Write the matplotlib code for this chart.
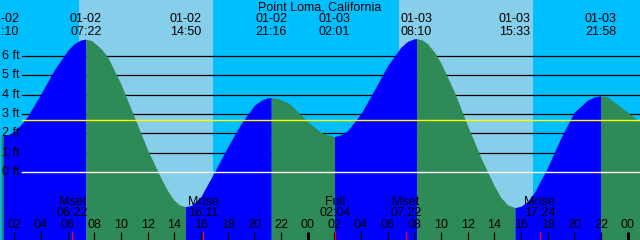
"""
Tide graph for Point Loma, California (01-02 .. 01-03), XTide style.
Saves out.png (640x240).
"""

import matplotlib
matplotlib.use("Agg")
import matplotlib.pyplot as plt

plt.rcParams["font.family"] = ["Liberation Sans", "DejaVu Sans"]

TITLE = "Point Loma, California"

# Tide height (ft), hours counted from 01-02 00:00
curve_hours = [1.0, 1.17, 1.6, 2, 2.5, 3, 4, 5, 6, 6.5, 7, 7.37, 7.8, 8.5, 9, 10,
               11, 12, 13, 13.5, 14, 14.4, 14.83,
               15.3, 16, 17, 18, 19, 20, 20.5, 21, 21.27, 21.7, 22.5, 23, 24, 25,
               25.5, 26.02, 26.5,
               27, 28, 29, 30, 31, 31.5, 32, 32.17, 32.6, 33, 33.5, 34, 35, 36, 37,
               38, 38.5, 39, 39.55,
               40, 40.5, 41, 42, 43, 44, 45, 45.5, 45.97, 46.5, 47, 48, 49]
curve_feet = [1.91, 1.90, 1.96, 2.12, 2.45, 2.89, 4.04, 5.28, 6.28, 6.63, 6.82, 6.86,
              6.79, 6.38, 5.95, 4.55,
              2.85, 1.15, -0.30, -0.95, -1.45, -1.68, -1.77,
              -1.70, -1.25, 0.0, 1.30, 2.50, 3.45, 3.70, 3.84, 3.85, 3.81, 3.60, 3.30,
              2.61, 2.06, 1.93, 1.84, 1.93,
              2.15, 3.02, 4.24, 5.49, 6.45, 6.75, 6.88, 6.89, 6.82, 6.62, 6.21, 5.63,
              4.15, 2.40, 0.75,
              -0.70, -1.30, -1.68, -1.82,
              -1.75, -1.50, -1.05, 0.25, 1.78, 3.10, 3.72, 3.88, 3.95, 3.88, 3.62,
              3.10, 2.55]

# high / low tide events (labels along the top)
tide_days  = [0, 0, 0, 0, 1, 1, 1, 1]
tide_times = ["01:10", "07:22", "14:50", "21:16", "02:01", "08:10", "15:33", "21:58"]
day_names  = ["01-02", "01-03"]

# moon events (labels along the bottom)
moon_labels = ["Mset", "Mrise", "Full", "Mset", "Mrise"]
moon_days   = [0, 0, 1, 1, 1]
moon_times  = ["06:22", "16:11", "02:04", "07:22", "17:24"]

# daylight
sunrise_times = ["06:51", "06:52"]
sunset_times  = ["16:53", "16:54"]

depth_levels = [1, 2, 3, 4, 5, 6]
datum_level  = 0
mean_level   = 2.68

hour_ticks    = list(range(2, 49, 2))
midnight_tick = [24, 48]

NIGHT  = "#00bfff"
DAY    = "#87ceeb"
RISING = "#0000ff"
FALL   = "#2e8b57"

X0, X1 = 0.93, 48.93      # visible hours
Y0, Y1 = -3.49, 8.88      # visible feet
W, H = 640, 240


def to_hours(day, hhmm):
    hh, mm = hhmm.split(":")
    return day * 24 + int(hh) + int(mm) / 60


def yfrac(px):
    return 1 - px / H


fig = plt.figure(figsize=(W / 100, H / 100), dpi=100)
ax = fig.add_axes([0, 0, 1, 1])
ax.set_xlim(X0, X1)
ax.set_ylim(Y0, Y1)
ax.axis("off")
ax.add_patch(plt.Rectangle((0, 0), 1, 1, transform=ax.transAxes,
                           color=NIGHT, zorder=0))

# ── day / night background ────────────────────────────────────────────────────
for d, (rise, sset) in enumerate(zip(sunrise_times, sunset_times)):
    ax.axvspan(to_hours(d, rise), to_hours(d, sset), color=DAY, lw=0, zorder=0.5)

# ── depth lines behind the water ─────────────────────────────────────────────
for lvl in depth_levels:
    ax.axhline(lvl, xmin=22 / W, color="black", lw=0.9, zorder=1)
    ax.text(2.5 / W, lvl, f"{lvl} ft", transform=ax.get_yaxis_transform(),
            ha="left", va="center", fontsize=9, zorder=6)
ax.text(2.5 / W, datum_level, f"{datum_level} ft", transform=ax.get_yaxis_transform(),
        ha="left", va="center", fontsize=9, zorder=6)

# ── tide fill: blue while rising, green while falling ────────────────────────
start = 0
for i in range(1, len(curve_hours)):
    rising = curve_feet[i] > curve_feet[i - 1]
    last = i == len(curve_hours) - 1
    if not last:
        next_rising = curve_feet[i + 1] > curve_feet[i]
    if last or next_rising != rising:
        ax.fill_between(curve_hours[start:i + 1], curve_feet[start:i + 1], Y0 - 1,
                        color=RISING if rising else FALL, lw=0, zorder=2)
        start = i

ax.axhline(datum_level, xmin=22 / W, color="white", lw=1.0, zorder=3)
ax.axhline(mean_level, xmin=22 / W, color="yellow", lw=1.0, zorder=3)

# ── top labels: title and tide times ─────────────────────────────────────────
ax.text(0.5, yfrac(8), TITLE, transform=ax.transAxes, ha="center", va="center",
        fontsize=9, zorder=6)
for d, t in zip(tide_days, tide_times):
    x = to_hours(d, t)
    ax.text(x, yfrac(19.5), day_names[d], transform=ax.get_xaxis_transform(),
            ha="center", va="center", fontsize=9, zorder=6)
    ax.text(x, yfrac(31.8), t, transform=ax.get_xaxis_transform(),
            ha="center", va="center", fontsize=9, zorder=6)

# ── bottom: hour ticks, moon events ──────────────────────────────────────────
tr = ax.get_xaxis_transform()
for h in hour_ticks:
    ax.plot([h, h], [0, 8 / H], transform=tr, color="black",
            lw=2.2 if h in midnight_tick else 0.9, zorder=4, solid_capstyle="butt")
    ax.text(h, yfrac(225.5), f"{h % 24:02d}", transform=tr,
            ha="center", va="center", fontsize=9, zorder=6)

for lab, d, t in zip(moon_labels, moon_days, moon_times):
    x = to_hours(d, t)
    ax.plot([x, x], [0, 8 / H], transform=tr, color="red", lw=0.9, zorder=4)
    ax.text(x, yfrac(201.7), lab, transform=tr, ha="center", va="center",
            fontsize=9, zorder=6)
    ax.text(x, yfrac(213.3), t, transform=tr, ha="center", va="center",
            fontsize=9, zorder=6)

fig.savefig("out.png", dpi=100)
plt.close(fig)
